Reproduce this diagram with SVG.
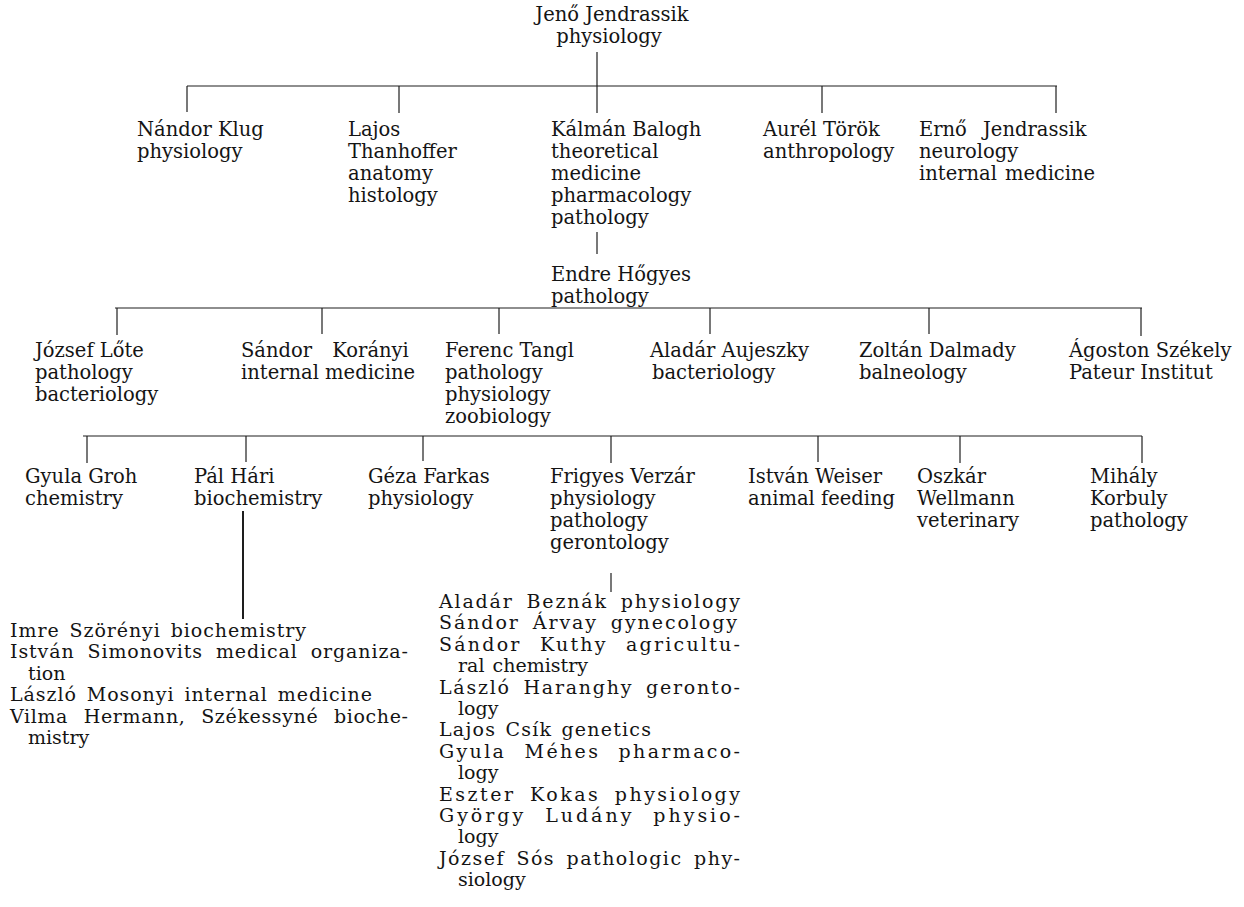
<svg xmlns="http://www.w3.org/2000/svg" width="1244" height="907" viewBox="0 0 1244 907">
<style>
text{font-family:"DejaVu Serif","Liberation Serif",serif;font-size:19.5px;fill:#141414}
text.l{font-size:19px}
.c line{stroke:#1e1e1e;stroke-width:1.2}
.bar{stroke-width:1.6}
</style>
<rect width="1244" height="907" fill="#fff"/>
<g class="c" id="connectors">
<line x1="597" y1="52" x2="597" y2="86"/>
<line class="bar" x1="187" y1="86" x2="1057" y2="86"/>
<line x1="187" y1="86" x2="187" y2="112"/>
<line x1="399" y1="86" x2="399" y2="113"/>
<line x1="597" y1="86" x2="597" y2="113"/>
<line x1="822" y1="86" x2="822" y2="113"/>
<line x1="1056" y1="86" x2="1056" y2="113"/>
<line x1="597" y1="232" x2="597" y2="254"/>
<line class="bar" x1="115" y1="308" x2="1142" y2="308"/>
<line x1="117" y1="308" x2="117" y2="335"/>
<line x1="322" y1="308" x2="322" y2="334"/>
<line x1="499" y1="308" x2="499" y2="334"/>
<line x1="710" y1="308" x2="710" y2="334"/>
<line x1="929" y1="308" x2="929" y2="334"/>
<line x1="1141" y1="308" x2="1141" y2="336"/>
<line class="bar" x1="83" y1="436" x2="1142" y2="436"/>
<line x1="87" y1="436" x2="87" y2="463"/>
<line x1="246" y1="436" x2="246" y2="462"/>
<line x1="423" y1="436" x2="423" y2="461"/>
<line x1="611" y1="436" x2="611" y2="463"/>
<line x1="818" y1="436" x2="818" y2="462"/>
<line x1="960" y1="436" x2="960" y2="463"/>
<line x1="1142" y1="436" x2="1142" y2="463"/>
<line x1="243" y1="511" x2="243" y2="619" style="stroke-width:2"/>
<line x1="611" y1="573" x2="611" y2="592"/>
</g>
<g id="n-jeno"><text x="612" y="21" text-anchor="middle">Jenő Jendrassik<tspan x="609" dy="22">physiology</tspan></text></g>
<g id="n-nandor"><text x="137" y="136">Nándor Klug<tspan x="137" dy="22">physiology</tspan></text></g>
<g id="n-lajos"><text x="348" y="136">Lajos<tspan x="348" dy="22">Thanhoffer</tspan><tspan x="348" dy="22">anatomy</tspan><tspan x="348" dy="22">histology</tspan></text></g>
<g id="n-kalman"><text x="551" y="136">Kálmán Balogh<tspan x="551" dy="22">theoretical</tspan><tspan x="551" dy="22">medicine</tspan><tspan x="551" dy="22">pharmacology</tspan><tspan x="551" dy="22">pathology</tspan></text></g>
<g id="n-aurel"><text x="763" y="136">Aurél Török<tspan x="763" dy="22">anthropology</tspan></text></g>
<g id="n-erno"><text x="919" y="136"><tspan word-spacing="10">Ernő Jendrassik</tspan><tspan x="919" dy="22">neurology</tspan><tspan x="919" dy="22" word-spacing="2">internal medicine</tspan></text></g>
<g id="n-endre"><text x="551" y="281">Endre Hőgyes<tspan x="551" dy="22">pathology</tspan></text></g>
<g id="n-jozsef"><text x="35" y="357">József Lőte<tspan x="35" dy="22">pathology</tspan><tspan x="35" dy="22">bacteriology</tspan></text></g>
<g id="n-sandor"><text x="241" y="357"><tspan word-spacing="14">Sándor Korányi</tspan><tspan x="241" dy="22">internal medicine</tspan></text></g>
<g id="n-ferenc"><text x="445" y="357">Ferenc Tangl<tspan x="445" dy="22">pathology</tspan><tspan x="445" dy="22">physiology</tspan><tspan x="445" dy="22">zoobiology</tspan></text></g>
<g id="n-aladar"><text x="650" y="357">Aladár Aujeszky<tspan x="652" dy="22">bacteriology</tspan></text></g>
<g id="n-zoltan"><text x="859" y="357">Zoltán Dalmady<tspan x="859" dy="22">balneology</tspan></text></g>
<g id="n-agoston"><text x="1069" y="357">Ágoston Székely<tspan x="1069" dy="22">Pateur Institut</tspan></text></g>
<g id="n-gyula"><text x="25" y="483">Gyula Groh<tspan x="25" dy="22">chemistry</tspan></text></g>
<g id="n-pal"><text x="194" y="483">Pál Hári<tspan x="194" dy="22">biochemistry</tspan></text></g>
<g id="n-geza"><text x="368" y="483">Géza Farkas<tspan x="368" dy="22">physiology</tspan></text></g>
<g id="n-frigyes"><text x="550" y="483">Frigyes Verzár<tspan x="550" dy="22">physiology</tspan><tspan x="550" dy="22">pathology</tspan><tspan x="550" dy="22">gerontology</tspan></text></g>
<g id="n-istvan"><text x="748" y="483">István Weiser<tspan x="748" dy="22">animal feeding</tspan></text></g>
<g id="n-oszkar"><text x="917" y="483">Oszkár<tspan x="917" dy="22">Wellmann</tspan><tspan x="917" dy="22">veterinary</tspan></text></g>
<g id="n-mihaly"><text x="1090" y="483">Mihály<tspan x="1090" dy="22">Korbuly</tspan><tspan x="1090" dy="22">pathology</tspan></text></g>
<g id="n-pal-list">
<text class="l" x="10" y="637"><tspan textLength="296" lengthAdjust="spacing" word-spacing="3">Imre Szörényi biochemistry</tspan><tspan x="10" y="658.4" textLength="398" lengthAdjust="spacing" word-spacing="6">István Simonovits medical organiza-</tspan><tspan x="28" y="679.8">tion</tspan><tspan x="10" y="701.2" textLength="362" lengthAdjust="spacing" word-spacing="3">László Mosonyi internal medicine</tspan><tspan x="10" y="722.6" textLength="398" lengthAdjust="spacing" word-spacing="9">Vilma Hermann, Székessyné bioche-</tspan><tspan x="28" y="744">mistry</tspan></text>
</g>
<g id="n-frigyes-list">
<text class="l" x="439" y="608"><tspan textLength="301" lengthAdjust="spacing" word-spacing="5">Aladár Beznák physiology</tspan><tspan x="439" y="629.4" textLength="298" lengthAdjust="spacing" word-spacing="5">Sándor Árvay gynecology</tspan><tspan x="439" y="650.8" textLength="301" lengthAdjust="spacing" word-spacing="10">Sándor Kuthy agricultu-</tspan><tspan x="458" y="672.2" word-spacing="2">ral chemistry</tspan><tspan x="439" y="693.6" textLength="301" lengthAdjust="spacing" word-spacing="5">László Haranghy geronto-</tspan><tspan x="458" y="715">logy</tspan><tspan x="439" y="736.4" textLength="212" lengthAdjust="spacing" word-spacing="2">Lajos Csík genetics</tspan><tspan x="439" y="757.8" textLength="301" lengthAdjust="spacing" word-spacing="10">Gyula Méhes pharmaco-</tspan><tspan x="458" y="779.2">logy</tspan><tspan x="439" y="800.6" textLength="301" lengthAdjust="spacing" word-spacing="6">Eszter Kokas physiology</tspan><tspan x="439" y="822" textLength="301" lengthAdjust="spacing" word-spacing="10">György Ludány physio-</tspan><tspan x="458" y="843.4">logy</tspan><tspan x="439" y="864.8" textLength="301" lengthAdjust="spacing" word-spacing="4">József Sós pathologic phy-</tspan><tspan x="458" y="886.2">siology</tspan></text>
</g>
</svg>
